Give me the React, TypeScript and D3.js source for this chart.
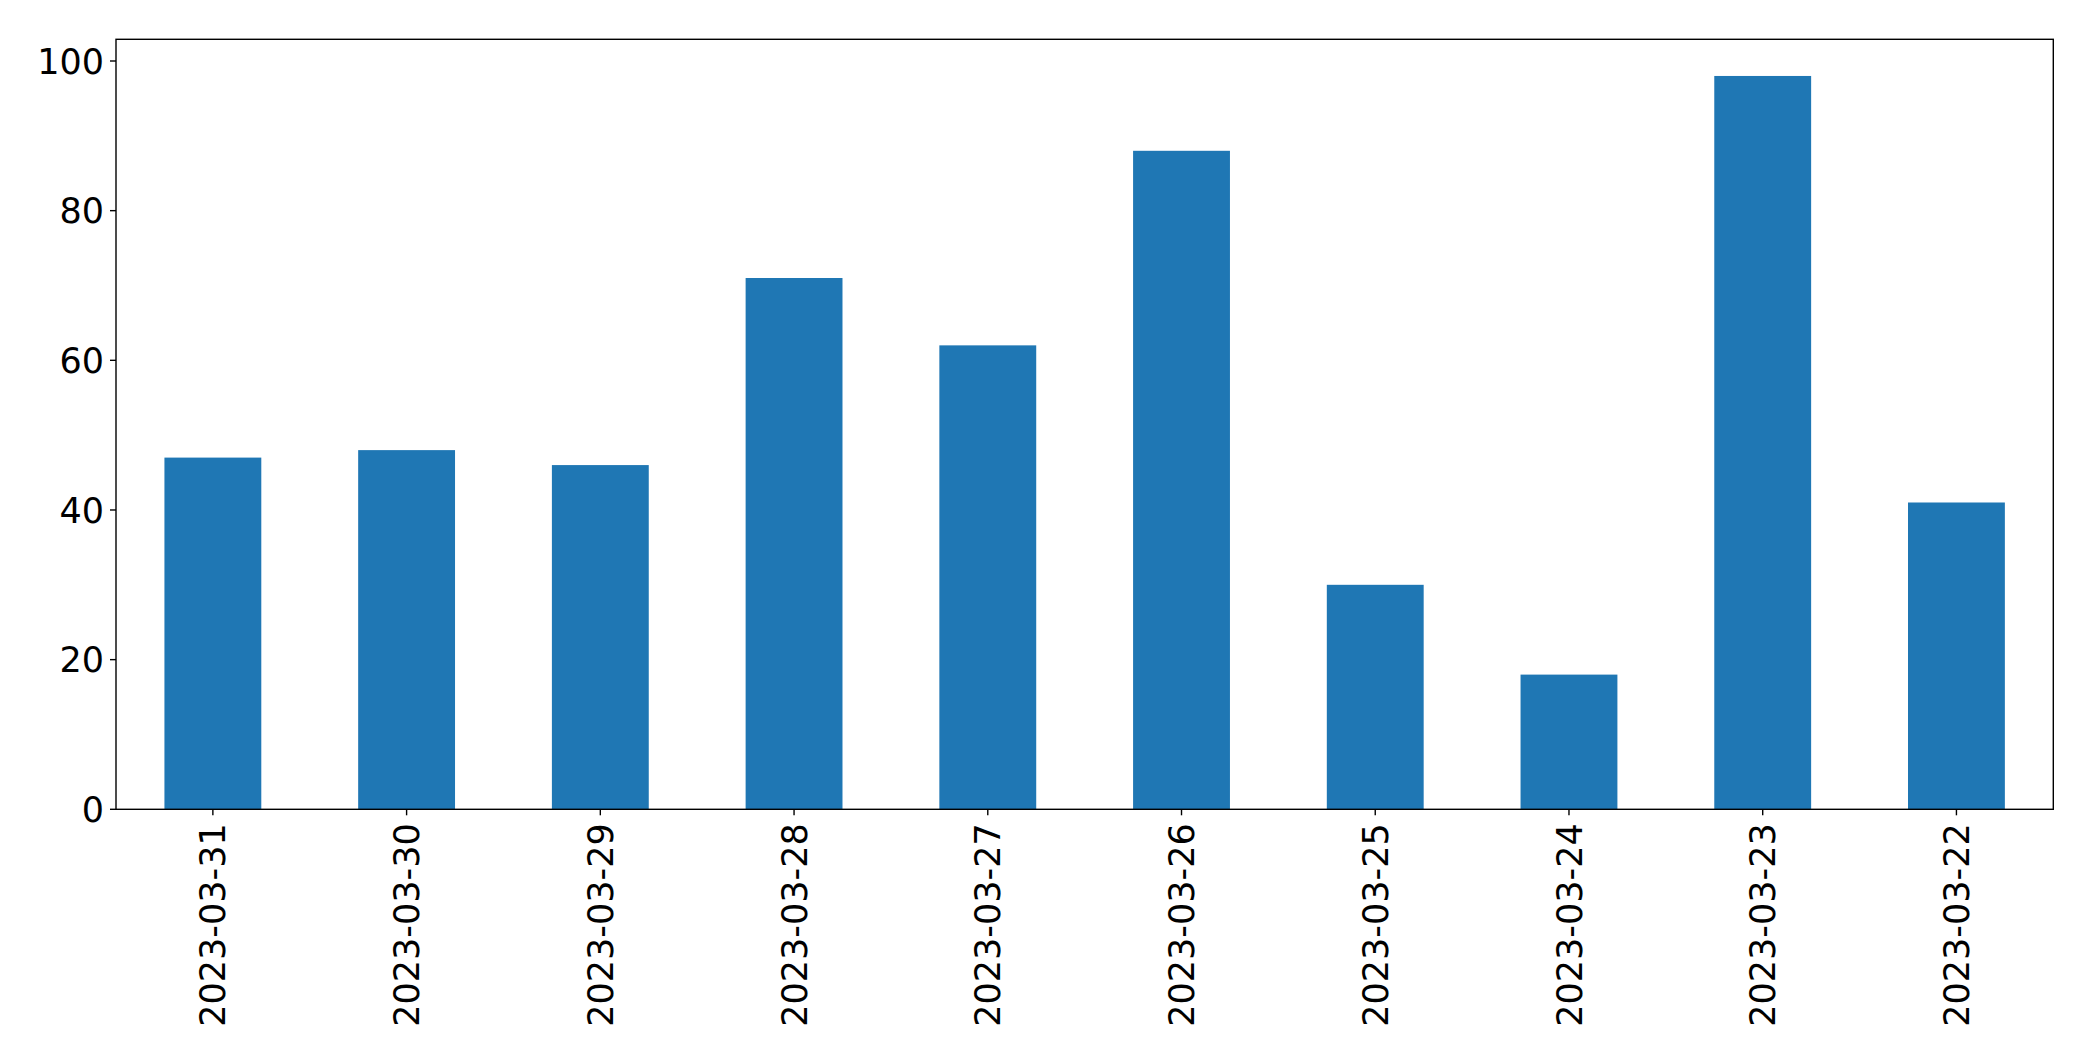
import React from "react";
import * as d3 from "d3";

const categories = [
  "2023-03-31", "2023-03-30", "2023-03-29", "2023-03-28", "2023-03-27",
  "2023-03-26", "2023-03-25", "2023-03-24", "2023-03-23", "2023-03-22",
];
const values = [47, 48, 46, 71, 62, 88, 30, 18, 98, 41];
const yTicks = [0, 20, 40, 60, 80, 100];

const W = 2093;
const H = 1061;
const M = { left: 116, right: 2053.3, top: 39.3, bottom: 809.3 };
const FONT = "DejaVu Sans, sans-serif";
const FS = 35;

export default function App() {
  const x = d3
    .scaleBand<string>()
    .domain(categories)
    .range([M.left, M.right])
    .paddingInner(0.5)
    .paddingOuter(0.25);
  const yMax = d3.max(values)! * 1.05;
  const y = d3.scaleLinear().domain([0, yMax]).range([M.bottom, M.top]);
  const tick = 6;

  return (
    <svg
      width={W}
      height={H}
      style={{ position: "absolute", left: 0, top: 0, background: "#fff" }}
      fontFamily={FONT}
    >
      <rect x={0} y={0} width={W} height={H} fill="#fff" />
      {categories.map((c, i) => (
        <rect
          key={c}
          x={x(c)}
          y={y(values[i])}
          width={x.bandwidth()}
          height={y(0) - y(values[i])}
          fill="#1f77b4"
        />
      ))}
      <rect
        x={M.left}
        y={M.top}
        width={M.right - M.left}
        height={M.bottom - M.top}
        fill="none"
        stroke="#000"
        strokeWidth={1.4}
      />
      {yTicks.map((t) => (
        <g key={t}>
          <line x1={M.left - tick} x2={M.left} y1={y(t)} y2={y(t)} stroke="#000" strokeWidth={1.4} />
          <text
            x={M.left - tick - 6}
            y={y(t)}
            dy="0.36em"
            textAnchor="end"
            fontSize={FS}
            fill="#000"
          >
            {t}
          </text>
        </g>
      ))}
      {categories.map((c) => {
        const cx = x(c)! + x.bandwidth() / 2;
        return (
          <g key={c}>
            <line x1={cx} x2={cx} y1={M.bottom} y2={M.bottom + tick} stroke="#000" strokeWidth={1.4} />
            <text
              transform={`translate(${cx},${M.bottom + tick + 8}) rotate(-90)`}
              dy="0.36em"
              textAnchor="end"
              fontSize={FS}
              fill="#000"
            >
              {c}
            </text>
          </g>
        );
      })}
    </svg>
  );
}
